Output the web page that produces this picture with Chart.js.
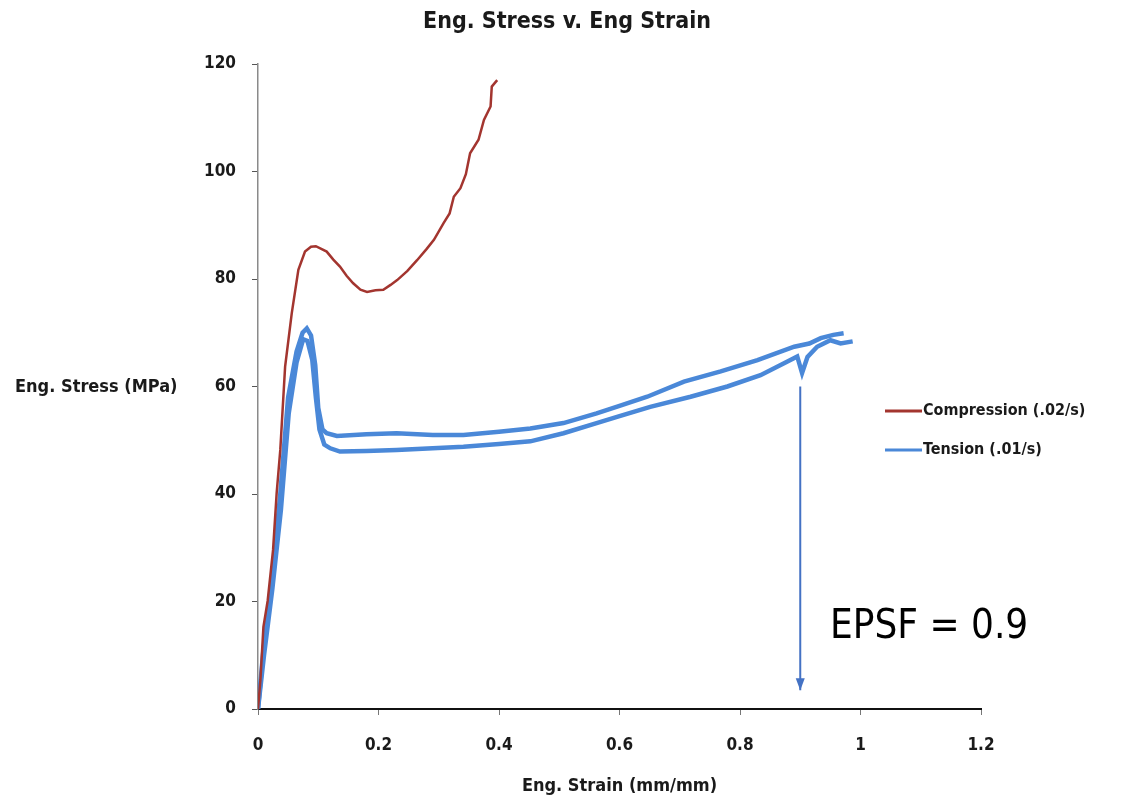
<!DOCTYPE html>
<html>
<head>
<meta charset="utf-8">
<script src="https://cdn.jsdelivr.net/npm/chart.js@4/dist/chart.umd.min.js"></script>
<style>
  body { margin: 0; background: #fff; }
  #wrap { width: 1127px; height: 801px; position: relative; }
</style>
</head>
<body>
<div id="wrap"><canvas id="myChart"></canvas></div>
<script>
// --- DATA ---
const compStrain = [0, 0.004, 0.009, 0.016, 0.025, 0.031, 0.037, 0.045, 0.056, 0.067, 0.078, 0.088, 0.096, 0.105, 0.114, 0.125, 0.136, 0.147, 0.158, 0.170, 0.181, 0.195, 0.208, 0.220, 0.231, 0.248, 0.264, 0.280, 0.292, 0.308, 0.318, 0.325, 0.336, 0.345, 0.352, 0.366, 0.375, 0.386, 0.388, 0.397];
const compStress = [0, 5.4, 15.3, 20.1, 29.6, 40.2, 48.2, 63.7, 73.6, 81.7, 85.1, 86.0, 86.1, 85.6, 85.1, 83.6, 82.3, 80.6, 79.2, 78.0, 77.6, 77.9, 78.0, 78.9, 79.8, 81.5, 83.5, 85.6, 87.3, 90.4, 92.2, 95.3, 96.9, 99.5, 103.4, 105.9, 109.6, 112.1, 115.8, 117.0];

const tens1Strain = [0, 0.009, 0.023, 0.037, 0.050, 0.064, 0.074, 0.081, 0.088, 0.095, 0.100, 0.107, 0.114, 0.131, 0.180, 0.230, 0.290, 0.341, 0.400, 0.452, 0.507, 0.562, 0.600, 0.646, 0.707, 0.768, 0.829, 0.890, 0.915, 0.934, 0.955, 0.972];
const tens1Stress = [0, 11, 24, 40, 58, 66.5, 70, 70.8, 69.5, 64, 56, 52, 51.3, 50.8, 51.1, 51.3, 51.0, 51.0, 51.6, 52.2, 53.2, 55.0, 56.4, 58.1, 60.9, 62.8, 64.9, 67.4, 68.0, 69.0, 69.6, 69.9];

const tens2Strain = [0, 0.010, 0.024, 0.038, 0.051, 0.064, 0.075, 0.082, 0.090, 0.096, 0.102, 0.110, 0.120, 0.136, 0.180, 0.230, 0.290, 0.341, 0.400, 0.452, 0.507, 0.562, 0.600, 0.651, 0.718, 0.779, 0.834, 0.878, 0.895, 0.903, 0.912, 0.928, 0.950, 0.967, 0.987];
const tens2Stress = [0, 10, 22.5, 37, 55, 64.5, 68.8, 68.5, 65, 58, 52, 49.2, 48.5, 47.9, 48.0, 48.2, 48.5, 48.8, 49.3, 49.8, 51.3, 53.2, 54.5, 56.2, 58.1, 60.0, 62.1, 64.6, 65.6, 62.5, 65.5, 67.4, 68.6, 68.0, 68.4];

// EPSF marker: arrow from the end of the tension curve down to the axis
const epsfStrain = [0.9, 0.9];
const epsfStress = [60, 3.5];

const xTicks = [0, 0.2, 0.4, 0.6, 0.8, 1, 1.2];
const yTicks = [0, 20, 40, 60, 80, 100, 120];

const RED = '#a3352f';
const BLUE = '#4a88d8';
const FONT = "'Liberation Sans Narrow', 'DejaVu Sans Condensed', 'Open Sans', sans-serif";

const toPts = (xs, ys) => xs.map((x, i) => ({ x: x, y: ys[i] }));

// --- EXTRA DRAWING: title, y title, legend, arrowhead, EPSF label ---
const decor = {
    id: 'decor',
    afterDatasetsDraw(chart) {
        const c = chart.ctx;
        const xs = chart.scales.x, ys = chart.scales.y;
        // arrowhead
        const ax = xs.getPixelForValue(epsfStrain[1]);
        const ay = ys.getPixelForValue(epsfStress[1]);
        c.save();
        c.fillStyle = '#4472c4';
        c.beginPath();
        c.moveTo(ax, ay);
        c.lineTo(ax - 4.5, ay - 12);
        c.lineTo(ax + 4.5, ay - 12);
        c.closePath();
        c.fill();
        c.restore();
    },
    afterDraw(chart) {
        const c = chart.ctx;
        c.save();
        c.fillStyle = '#1a1a1a';
        c.textBaseline = 'middle';

        c.font = 'bold 23px ' + FONT;
        c.textAlign = 'center';
        c.fillText('Eng. Stress v. Eng Strain', 567, 22);

        c.font = 'bold 18px ' + FONT;
        c.textAlign = 'left';
        c.fillText('Eng. Stress (MPa)', 15, 387);

        // legend
        c.font = 'bold 16px ' + FONT;
        const items = [['Compression (.02/s)', RED, 411], ['Tension (.01/s)', BLUE, 450]];
        items.forEach(([txt, col, y]) => {
            c.strokeStyle = col;
            c.lineWidth = 3;
            c.beginPath();
            c.moveTo(885, y);
            c.lineTo(922, y);
            c.stroke();
            c.fillText(txt, 923, y);
        });

        c.font = '40px ' + FONT;
        c.fillStyle = '#000';
        c.fillText('EPSF = 0.9', 830, 628);
        c.restore();
    }
};

const ctx = document.getElementById('myChart').getContext('2d');
const myChart = new Chart(ctx, {
    type: 'scatter',
    data: {
        datasets: [
            { label: 'Compression (.02/s)', data: toPts(compStrain, compStress), borderColor: RED, borderWidth: 2.5, showLine: true, pointRadius: 0, tension: 0 },
            { label: 'Tension (.01/s)', data: toPts(tens1Strain, tens1Stress), borderColor: BLUE, borderWidth: 4.5, showLine: true, pointRadius: 0, tension: 0 },
            { label: 'Tension (.01/s)', data: toPts(tens2Strain, tens2Stress), borderColor: BLUE, borderWidth: 4.5, showLine: true, pointRadius: 0, tension: 0 },
            { label: 'EPSF', data: toPts(epsfStrain, epsfStress), borderColor: '#4472c4', borderWidth: 2, showLine: true, pointRadius: 0 }
        ]
    },
    options: {
        responsive: true,
        maintainAspectRatio: false,
        animation: false,
        layout: { padding: { left: 0, top: 64, right: 146, bottom: 0 } },
        plugins: {
            legend: { display: false },
            title: { display: false },
            tooltip: { enabled: false }
        },
        scales: {
            x: {
                type: 'linear',
                min: 0, max: 1.2,
                afterBuildTicks: s => { s.ticks = xTicks.map(v => ({ value: v })); },
                afterFit: s => { s.height = 92; },
                grid: { drawOnChartArea: false, drawTicks: true, tickLength: 6, color: '#777' },
                border: { display: true, color: '#111', width: 2 },
                ticks: {
                    color: '#1a1a1a', font: { family: FONT, size: 17, weight: 'bold' }, padding: 20, maxRotation: 0,
                    callback: v => String(Math.round(v * 10) / 10)
                },
                title: { display: true, text: 'Eng. Strain (mm/mm)', color: '#1a1a1a', font: { family: FONT, size: 18, weight: 'bold' }, padding: { top: 8 } }
            },
            y: {
                type: 'linear',
                min: 0, max: 120,
                afterBuildTicks: s => { s.ticks = yTicks.map(v => ({ value: v })); },
                afterFit: s => { s.width = 258; },
                grid: { drawOnChartArea: false, drawTicks: true, tickLength: 6, color: '#555' },
                border: { display: true, color: '#8a8a8a', width: 1.5 },
                ticks: { color: '#1a1a1a', font: { family: FONT, size: 17, weight: 'bold' }, padding: 16 }
            }
        }
    },
    plugins: [decor]
});
</script>
</body>
</html>
